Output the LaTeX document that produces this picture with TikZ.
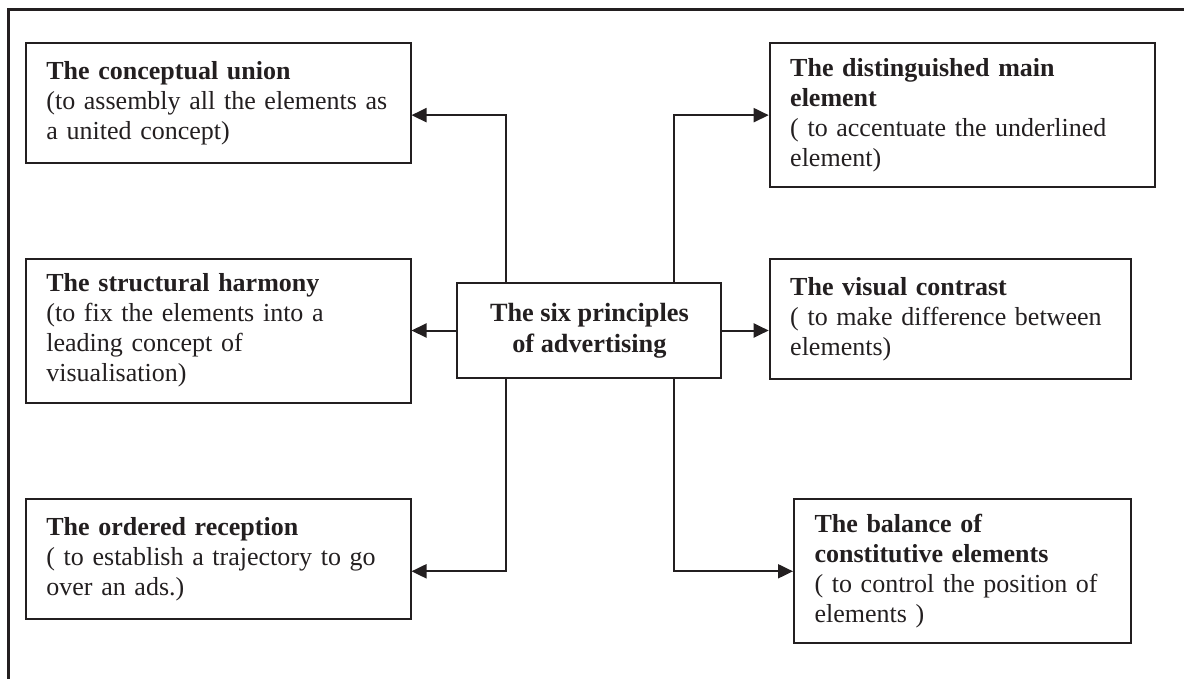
\documentclass[tikz,border=0pt]{standalone}
\usepackage{fontspec}
\setmainfont{Liberation Serif}
\usetikzlibrary{arrows.meta}
\definecolor{inkColor}{HTML}{231F20}
\hyphenpenalty=10000
\newcommand{\principle}[2]{\textbf{#1}\\#2}

\begin{document}
\begin{tikzpicture}[%%
  x=1pt,y=-1pt,%%
  frameStyle/.style={line width=3pt,draw=inkColor},%%
  boxStyle/.style={draw=inkColor,line width=2pt,rectangle,anchor=north west,align=left,inner xsep=20.5pt,inner ysep=0pt,text=inkColor,font=\fontsize{26}{30}\selectfont},%%
  hubStyle/.style={draw=inkColor,line width=2pt,rectangle,align=center,minimum width=264pt,minimum height=95.6pt,inner sep=0pt,text=inkColor,font=\fontsize{26.3}{31}\selectfont\bfseries},%%
  linkStyle/.style={line width=2pt,draw=inkColor,-{Triangle[length=15pt,width=14pt]}}%%
]
\useasboundingbox (0,0) rectangle (1184,679);
%% The outer frame, cut off at the right and at the bottom.
\draw[frameStyle] (8.4,679) -- (8.4,10) -- (1184,10);
%%
%% The centre.
\node[hubStyle] (hub) at (589.4,330.5) {The six principles\\of advertising};
\coordinate (leftBus) at (505.9,0);
\coordinate (rightBus) at (673.6,0);
%%
%% The principles on the left.
\node[boxStyle,text width=343.6pt,minimum height=120pt] (union) at (24.9,42.3)
  {\principle{The conceptual union}{(to assembly all the elements as\\a united concept)}};
\node[boxStyle,text width=343.6pt,minimum height=144pt] (harmony) at (24.9,257.7)
  {\principle{The structural harmony}{(to fix the elements into a\\leading concept of\\visualisation)}};
\node[boxStyle,text width=343.6pt,minimum height=120pt] (reception) at (24.9,498.3)
  {\principle{The ordered reception}{( to establish a trajectory to go\\over an ads.)}};
%%
%% The principles on the right.
\node[boxStyle,text width=344.3pt,minimum height=143.7pt] (mainElement) at (768.7,42.3)
  {\principle{The distinguished main\\element}{( to accentuate the underlined\\element)}};
\node[boxStyle,text width=320pt,minimum height=120.6pt] (contrast) at (768.7,257.7)
  {\principle{The visual contrast}{( to make difference between\\elements)}};
\node[boxStyle,text width=295.7pt,minimum height=144pt] (balance) at (793,498.3)
  {\principle{The balance of\\constitutive elements}{( to control the position of\\elements )}};
%%
%% The connectors.
\draw[linkStyle] (hub.north -| leftBus) |- (union.east |- mainElement.west);
\draw[linkStyle] (hub.west) -- (hub.west -| harmony.east);
\draw[linkStyle] (hub.south -| leftBus) |- (reception.east |- balance.west);
\draw[linkStyle] (hub.north -| rightBus) |- (mainElement.west);
\draw[linkStyle] (hub.east) -- (hub.east -| contrast.west);
\draw[linkStyle] (hub.south -| rightBus) |- (balance.west);
\end{tikzpicture}
\end{document}
